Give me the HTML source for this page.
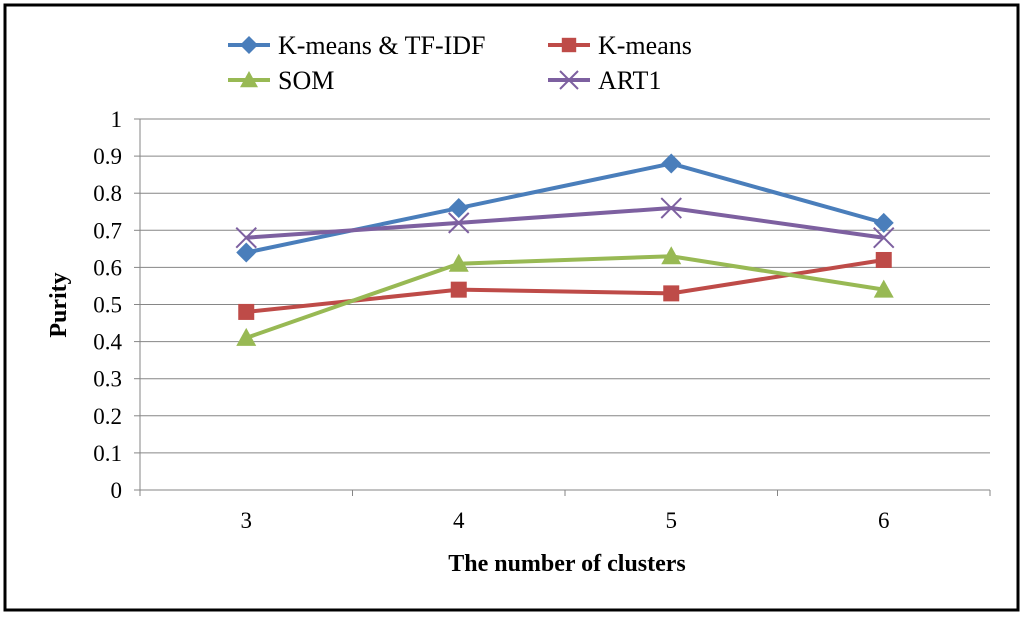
<!DOCTYPE html>
<html><head><meta charset="utf-8"><style>
body{margin:0;background:#fff}
svg, svg text{font-family:"Liberation Serif","Noto Serif CJK SC","DejaVu Serif",serif !important}
</style></head><body>
<svg width="1024" height="618" xmlns="http://www.w3.org/2000/svg">
<rect x="5" y="5" width="1013" height="605" fill="#fff" stroke="#000" stroke-width="3"/>
<g id="grid"></g><g id="axes"></g><g id="series"></g><g id="legend"></g>
<text x="567" y="571" font-size="24" font-weight="bold" text-anchor="middle">The number  of clusters</text>
<text transform="translate(66,305) rotate(-90)" font-size="24" font-weight="bold" text-anchor="middle">Purity</text>
</svg>
<script>
const categories=["3","4","5","6"];
const seriesNames=["K-means & TF-IDF","K-means","SOM","ART1"];
const tfidf=[0.64,0.76,0.88,0.72];
const kmeans=[0.48,0.54,0.53,0.62];
const som=[0.41,0.61,0.63,0.54];
const art1=[0.68,0.72,0.76,0.68];
const yTicks=["0","0.1","0.2","0.3","0.4","0.5","0.6","0.7","0.8","0.9","1"];
const NS="http://www.w3.org/2000/svg";
const L=140,R=990,T=119,B=490;
const x=i=>L+(R-L)/categories.length*(i+0.5);
const y=v=>B-(B-T)*v;
function mk(tag,attrs,parent){const e=document.createElementNS(NS,tag);for(const k in attrs)e.setAttribute(k,attrs[k]);document.getElementById(parent).appendChild(e);return e;}
yTicks.forEach(t=>{const v=parseFloat(t);
 if(v>0){const g=mk('line',{x1:L,x2:R,y1:y(v),y2:y(v),stroke:'#868686','stroke-width':1},'grid');
 
 }
 const tk=mk('line',{x1:L-6,x2:L,y1:y(v),y2:y(v),stroke:'#868686'},'axes');
 
 
 const tx=mk('text',{x:L-18,y:y(v)+8,'font-size':23,'text-anchor':'end'},'axes');tx.textContent=t;
 
 });
const ax=mk('line',{x1:L,x2:L,y1:T,y2:B,stroke:'#868686'},'axes');


const bx=mk('line',{x1:L,x2:R,y1:B,y2:B,stroke:'#868686'},'axes');


for(let i=0;i<=categories.length;i++){const tk=mk('line',{x1:L+(R-L)/categories.length*i,x2:L+(R-L)/categories.length*i,y1:B,y2:B+6,stroke:'#868686'},'axes');
 
 }
categories.forEach((c,i)=>{const t=mk('text',{x:x(i),y:B+38,'font-size':23,'text-anchor':'middle'},'axes');t.textContent=c;
 
 });
const colors=["#4a7ebb","#be4b48","#98b954","#7d60a0"];
const data=[tfidf,kmeans,som,art1];
const shapes=["diamond","square","triangle","x"];
function marker(sh,cx,cy,col,parent,s){let e;
 if(sh==="diamond")e=mk('polygon',{points:`${cx},${cy-s} ${cx+s},${cy} ${cx},${cy+s} ${cx-s},${cy}`,fill:col},parent);
 else if(sh==="square")e=mk('rect',{x:cx-s*0.8,y:cy-s*0.8,width:s*1.6,height:s*1.6,fill:col},parent);
 else if(sh==="triangle")e=mk('polygon',{points:`${cx},${cy-s} ${cx+s},${cy+s*0.8} ${cx-s},${cy+s*0.8}`,fill:col},parent);
 else e=mk('path',{d:`M${cx-s} ${cy-s}L${cx+s} ${cy+s}M${cx-s} ${cy+s}L${cx+s} ${cy-s}`,stroke:col,'stroke-width':2,fill:'none'},parent);
 return e;}
data.forEach((arr,si)=>{
 const p=mk('polyline',{points:arr.map((v,i)=>x(i)+','+y(v)).join(' '),fill:'none',stroke:colors[si],'stroke-width':4},'series');
 
 
 arr.forEach((v,i)=>{const m=marker(shapes[si],x(i),y(v),colors[si],'series',10);
  
  });
});
const lpos=[[228,45],[548,45],[228,80],[548,80]];
seriesNames.forEach((n,si)=>{const [lx,ly]=lpos[si];
 const l=mk('line',{x1:lx,x2:lx+42,y1:ly,y2:ly,stroke:colors[si],'stroke-width':4},'legend');
 
 
 const m=marker(shapes[si],lx+21,ly,colors[si],'legend',9);
 
 
 const t=mk('text',{x:lx+50,y:ly+9,'font-size':26},'legend');t.textContent=n;
 
 });
</script>
</body></html>
